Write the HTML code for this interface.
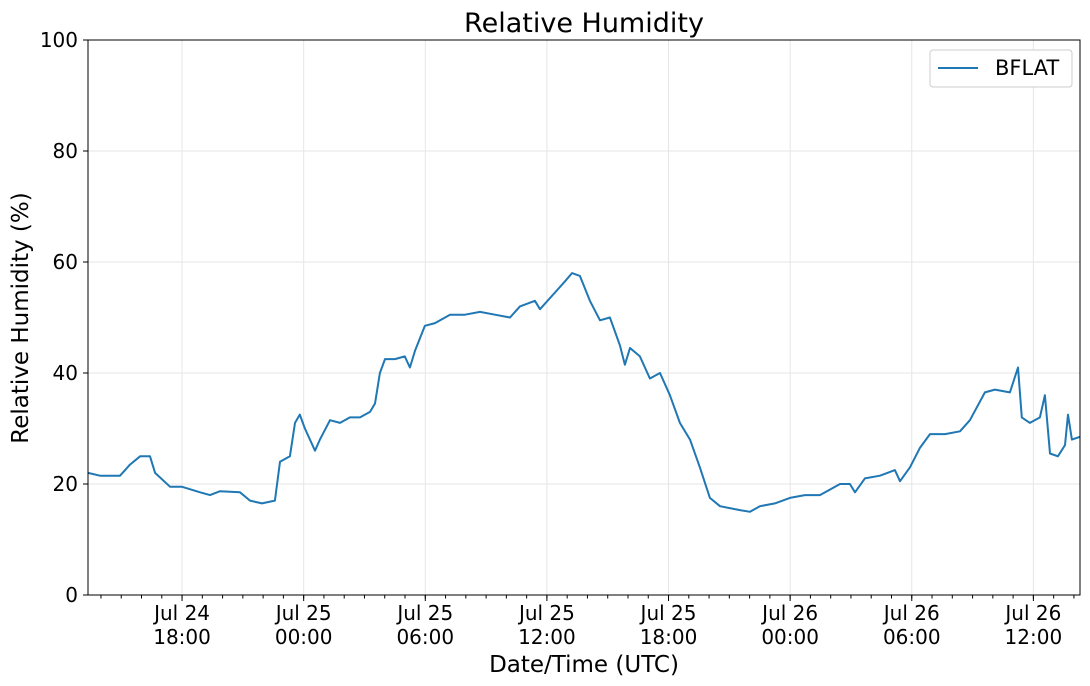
<!DOCTYPE html>
<html><head><meta charset="utf-8"><style>
body{margin:0;background:#fff;position:relative;}
svg{display:block;font-family:"DejaVu Sans","Liberation Sans",sans-serif;}
</style></head><body>
<svg id="chart" width="1090" height="686"></svg>
<script>
const hours=[13.36,13.95,14.94,15.43,15.93,16.42,16.67,17.41,18.00,18.89,19.38,19.87,20.86,21.35,21.94,22.58,22.83,23.32,23.57,23.81,24.06,24.56,24.80,25.30,25.79,26.28,26.78,27.27,27.52,27.76,28.01,28.50,28.99,29.24,29.49,29.98,30.48,31.22,31.96,32.70,33.44,34.18,34.67,35.41,35.66,36.40,36.89,37.24,37.63,38.12,38.62,39.11,39.60,39.85,40.10,40.59,41.08,41.58,42.07,42.56,43.06,43.55,44.04,44.54,45.52,46.02,46.51,47.25,47.99,48.73,49.47,49.96,50.46,50.95,51.20,51.69,52.43,53.17,53.42,53.91,54.40,54.90,55.64,56.38,56.87,57.61,58.10,58.84,59.24,59.43,59.83,60.32,60.57,60.82,61.21,61.56,61.71,61.90,62.30];
const humidity=[22,21.5,21.5,23.5,25,25,22,19.5,19.5,18.5,18,18.7,18.5,17,16.5,17,24,25,31,32.5,30,26,28,31.5,31,32,32,33,34.5,40,42.5,42.5,43,41,44,48.5,49,50.5,50.5,51,50.5,50,52,53,51.5,54.5,56.5,58,57.5,53,49.5,50,45,41.5,44.5,43,39,40,36,31,28,23,17.5,16,15.3,15,16,16.5,17.5,18,18,19,20,20,18.5,21,21.5,22.5,20.5,23,26.5,29,29,29.5,31.5,36.5,37,36.5,41,32,31,32,36,25.5,25,27,32.5,28,28.5];
const yTicks=[0,20,40,60,80,100];
const xTickHours=[18,24,30,36,42,48,54,60];
const xTickLabels=[["Jul 24","18:00"],["Jul 25","00:00"],["Jul 25","06:00"],["Jul 25","12:00"],["Jul 25","18:00"],["Jul 26","00:00"],["Jul 26","06:00"],["Jul 26","12:00"]];
const L=88,R=1080,T=40,B=595,h0=13.36,h1=62.3;
const X=h=>L+(h-h0)/(h1-h0)*(R-L);
const Y=v=>B-v/100*(B-T);
const svg=document.getElementById('chart');
const NS='http://www.w3.org/2000/svg';
function mk(tag,attrs,parent){const e=document.createElementNS(NS,tag);for(const k in attrs)e.setAttribute(k,attrs[k]);(parent||svg).appendChild(e);return e;}
yTicks.forEach(v=>{const l=mk('line',{x1:L,x2:R,y1:Y(v),y2:Y(v),stroke:'#e6e6e6','stroke-width':1});

});
xTickHours.forEach(h=>{const l=mk('line',{x1:X(h),x2:X(h),y1:T,y2:B,stroke:'#e6e6e6','stroke-width':1});

});
let d='';hours.forEach((h,i)=>{d+=(i?'L':'M')+X(h).toFixed(1)+','+Y(humidity[i]).toFixed(1);});
const p=mk('path',{d:d,fill:'none',stroke:'#1f77b4','stroke-width':2,'stroke-linejoin':'round'});


const f=mk('rect',{x:L,y:T,width:R-L,height:B-T,fill:'none',stroke:'#000','stroke-width':1});


yTicks.forEach(v=>{mk('line',{x1:L-5,x2:L,y1:Y(v),y2:Y(v),stroke:'#000'});
const t=mk('text',{x:L-10,y:Y(v)+7,'text-anchor':'end','font-size':20});t.textContent=v;

});
for(let h=Math.ceil(h0);h<=h1;h++){mk('line',{x1:X(h),x2:X(h),y1:B,y2:B+3.5,stroke:'#000'});}
xTickHours.forEach((h,i)=>{mk('line',{x1:X(h),x2:X(h),y1:B,y2:B+6,stroke:'#000'});
const t=mk('text',{x:X(h),y:620,'text-anchor':'middle','font-size':20});t.textContent=xTickLabels[i][0];


const t2=mk('text',{x:X(h),y:644,'text-anchor':'middle','font-size':20});t2.textContent=xTickLabels[i][1];

});
</script>
<svg style="position:absolute;left:0;top:0" width="1090" height="686">
<text x="584" y="32" text-anchor="middle" font-size="27" font-family="DejaVu Sans,sans-serif">Relative Humidity</text>
<text x="584" y="672" text-anchor="middle" font-size="23" font-family="DejaVu Sans,sans-serif">Date/Time (UTC)</text>
<text transform="translate(28,318) rotate(-90)" text-anchor="middle" font-size="23" font-family="DejaVu Sans,sans-serif">Relative Humidity (%)</text>
<g>
<rect x="930" y="50" width="142" height="37" rx="3" fill="#fff" stroke="#ccc"/>
<line x1="938" y1="68" x2="978" y2="68" stroke="#1f77b4" stroke-width="2"/>
<text x="995" y="75" font-size="21" font-family="DejaVu Sans,sans-serif">BFLAT</text>
</g>
</svg>
</body></html>
